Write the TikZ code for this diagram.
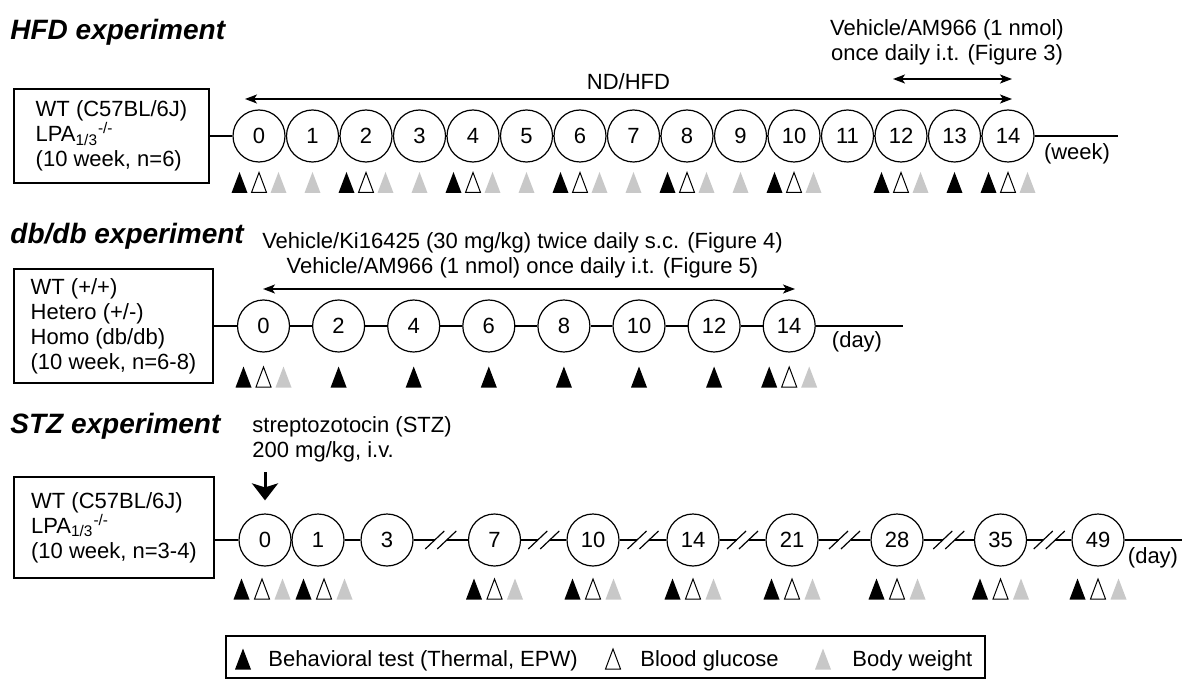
\documentclass[tikz,border=0pt]{standalone}
\usepackage{fontspec}
\setmainfont{Liberation Sans}
\usetikzlibrary{arrows.meta,positioning}
\definecolor{bwgray}{RGB}{200,200,200}
\tikzset{
  tpoint/.style={circle, draw, line width=0.6pt, minimum size=26pt, inner sep=0pt},
  groupbox/.style={draw, line width=0.6pt, align=left},
  tline/.style={line width=0.6pt},
  darrow/.style={{Stealth[length=6pt,width=4.5pt,inset=1.5pt]}-{Stealth[length=6pt,width=4.5pt,inset=1.5pt]}, line width=0.8pt},
  doserow/.style={-{Stealth[length=8.5pt,width=13pt,inset=2pt]}, line width=1.5pt},
  exptitle/.style={font=\fontsize{14}{16}\selectfont\bfseries\itshape, anchor=base west, inner sep=0pt},
  btri/.pic={\fill (-8,10.5) -- (8,10.5) -- (0,-10.5) -- cycle;},
  wtri/.pic={\draw[line width=0.5pt] (-7.5,10) -- (7.5,10) -- (0,-10) -- cycle;},
  gtri/.pic={\fill[bwgray] (-8,10.5) -- (8,10.5) -- (0,-10.5) -- cycle;}
}

\begin{document}
\begin{tikzpicture}[x=0.5pt, y=-0.5pt, font=\fontsize{11}{12.5}\selectfont]
  \useasboundingbox (0,0) rectangle (1182,679);

  % HFD
  \node[exptitle] (hfdtitle) at (10,40) {HFD experiment};
  \node[groupbox, minimum width=97.5pt, minimum height=47pt] (hbox) at (111.5,136)
    {WT (C57BL/6J)\\LPA\textsubscript{1/3}\textsuperscript{-/-}\\(10 week, n=6)};
  \foreach \w in {0,...,14}
    \node[tpoint] (h\w) at (259+53.5*\w,136) {\w};
  \draw[tline] (hbox) -- (h0);
  \foreach \w [evaluate=\w as \n using int(\w+1)] in {0,...,13}
    \draw[tline] (h\w) -- (h\n);
  \coordinate (hend) at (1118,136);
  \draw[tline] (h14) -- (hend);
  \node (hunit) at (1077,154) {(week)};

  \coordinate (ndL) at (245,99);
  \coordinate (ndR) at (1012,99);
  \draw[darrow] (ndL) -- node[above=1pt] (ndlabel) {ND/HFD} (ndR);
  \coordinate (amL) at (893,79);
  \coordinate (amR) at (1012,79);
  \draw[darrow] (amL) -- (amR);
  \node[align=center] (amlabel) at (947,42) {Vehicle/AM966 (1 nmol)\\once daily i.t. (Figure 3)};

  \foreach \w in {0,2,...,14} {
    \pic at ([shift={(-19.5,46.5)}]h\w) {btri};
    \pic at ([shift={(0,46.5)}]h\w) {wtri};
    \pic at ([shift={(19.5,46.5)}]h\w) {gtri};
  }
  \foreach \w in {1,3,...,9}
    \pic at ([shift={(0,46.5)}]h\w) {gtri};
  \pic at ([shift={(0,46.5)}]h13) {btri};

  % db/db
  \node[exptitle] (dbtitle) at (10,243) {db/db experiment};
  \node[groupbox, minimum width=99.5pt, minimum height=57pt] (dbox) at (113.5,326)
    {WT (+/+)\\Hetero (+/-)\\Homo (db/db)\\(10 week, n=6-8)};
  \foreach \d [count=\i from 0] in {0,2,...,14}
    \node[tpoint] (d\d) at (263.5+75.1*\i,326) {\d};
  \draw[tline] (dbox) -- (d0);
  \foreach \d [evaluate=\d as \n using int(\d+2)] in {0,2,...,12}
    \draw[tline] (d\d) -- (d\n);
  \coordinate (dend) at (903,326);
  \draw[tline] (d14) -- (dend);
  \node (dunit) at (857,342) {(day)};

  \coordinate (drugL) at (263,289);
  \coordinate (drugR) at (795,289);
  \draw[darrow] (drugL) -- (drugR);
  \node[align=center] (druglabel) at (522.5,255)
    {Vehicle/Ki16425 (30 mg/kg) twice daily s.c. (Figure 4)\\Vehicle/AM966 (1 nmol) once daily i.t. (Figure 5)};

  \foreach \d in {0,14} {
    \pic at ([shift={(-20,51)}]d\d) {btri};
    \pic at ([shift={(0,51)}]d\d) {wtri};
    \pic at ([shift={(20,51)}]d\d) {gtri};
  }
  \foreach \d in {2,4,...,12}
    \pic at ([shift={(0,51)}]d\d) {btri};

  % STZ
  \node[exptitle] (stztitle) at (10,433) {STZ experiment};
  \node[align=left, anchor=west, inner xsep=0pt] (stzlabel) at (252,439)
    {streptozotocin (STZ)\\200 mg/kg, i.v.};
  \node[groupbox, minimum width=100pt, minimum height=50.5pt] (sbox) at (114,527.5)
    {WT (C57BL/6J)\\LPA\textsubscript{1/3}\textsuperscript{-/-}\\(10 week, n=3-4)};
  \foreach \d/\x in {0/265,1/318,3/387,7/494.5,10/593,14/693,21/792,28/897,35/1000.5,49/1098}
    \node[tpoint] (s\d) at (\x,540) {\d};
  \coordinate (stzin) at (265,472);
  \draw[doserow, shorten >=6.5pt] (stzin) -- (s0);
  \draw[tline] (sbox.east |- s0) -- (s0);
  \draw[tline] (s0) -- (s1);
  \draw[tline] (s1) -- (s3);
  \foreach \a/\b in {3/7,7/10,10/14,14/21,21/28,28/35,35/49} {
    \path (s\a.east) -- (s\b.west) coordinate[midway] (brk\a);
    \draw[tline] (s\a) -- ([xshift=-3pt]brk\a);
    \draw[tline] ([xshift=3pt]brk\a) -- (s\b);
    \draw[tline] ([shift={(-15.5,9)}]brk\a) -- ([shift={(3.5,-9)}]brk\a);
    \draw[tline] ([shift={(-3.5,9)}]brk\a) -- ([shift={(15.5,-9)}]brk\a);
  }
  \coordinate (send) at (1182,540);
  \draw[tline] (s49) -- (send);
  \node (sunit) at (1153,558) {(day)};

  \foreach \d/\o in {0/-3,1/6,7/0,10/0,14/0,21/0,28/0,35/0,49/0} {
    \pic at ([shift={(\o-20.5,49)}]s\d) {btri};
    \pic at ([shift={(\o,49)}]s\d) {wtri};
    \pic at ([shift={(\o+20.5,49)}]s\d) {gtri};
  }

  % legend
  \node[draw, line width=0.6pt, minimum width=379.5pt, minimum height=21pt] (legend) at (605.5,657) {};
  \pic at (243,659) {btri};
  \node[anchor=west, inner xsep=0pt] (lgbeh) at (268,661) {Behavioral test (Thermal, EPW)};
  \pic at (613,659) {wtri};
  \node[anchor=west, inner xsep=0pt] (lgglu) at (640,661) {Blood glucose};
  \pic at (823,659) {gtri};
  \node[anchor=west, inner xsep=0pt] (lgbw) at (852,661) {Body weight};
\end{tikzpicture}
\end{document}
